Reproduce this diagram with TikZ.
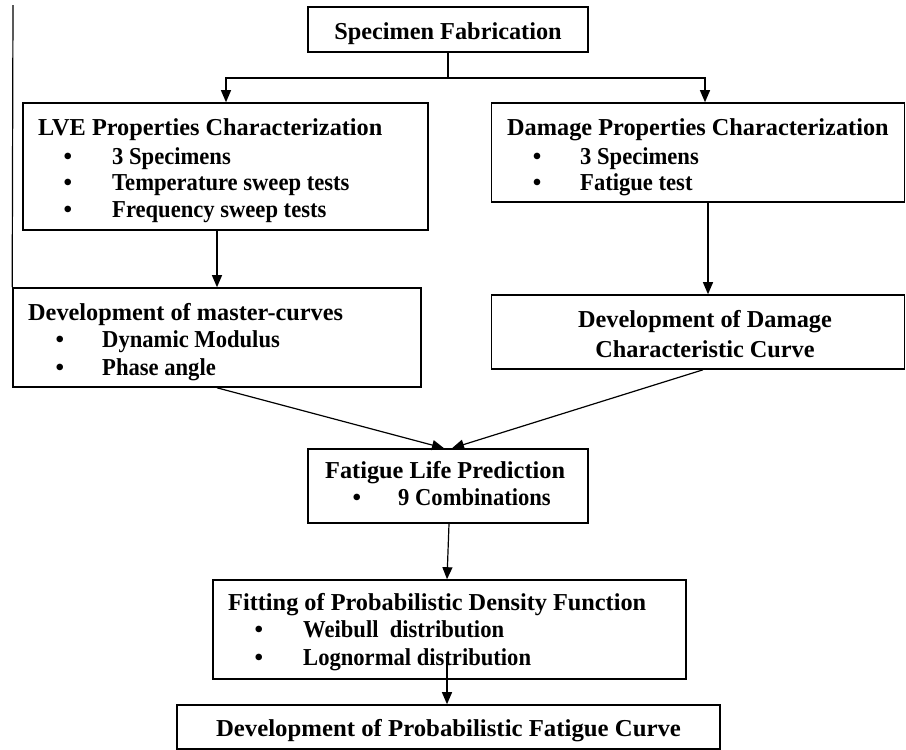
\documentclass[tikz,border=0pt]{standalone}
\usepackage{fontspec}
\usepackage{graphicx}
\setmainfont{Liberation Serif}
\usetikzlibrary{arrows.meta,calc}
\newcommand{\cnd}[1]{\scalebox{0.93}[1]{#1}}
\begin{document}
\begin{tikzpicture}[x=1pt,y=-1pt,
  box/.style={draw,line width=1.6pt,inner sep=0,anchor=center},
  conn/.style={line width=1.2pt},
  arr/.style={line width=1.2pt,-{Triangle[length=12pt,width=10pt]}},
  txt/.style={anchor=base west,inner sep=0,font=\bfseries\fontsize{24.3}{29}\selectfont},
  ctxt/.style={anchor=base,inner sep=0,font=\bfseries\fontsize{24.3}{29}\selectfont},
  bul/.style={anchor=base,inner sep=0,font=\bfseries\fontsize{24.3}{29}\selectfont}]
\useasboundingbox (0,0) rectangle (906,750);
% boxes
\node[box,minimum width=280pt,minimum height=45pt] (spec) at (448,29.5) {};
\node[box,minimum width=405pt,minimum height=127pt] (lve) at (225.5,166.5) {};
\node[box,minimum width=413pt,minimum height=99pt] (dam) at (698,152.5) {};
\node[box,minimum width=408pt,minimum height=99pt] (master) at (217,337.5) {};
\node[box,minimum width=413pt,minimum height=74pt] (dcurve) at (698,332) {};
\node[box,minimum width=280pt,minimum height=74pt] (life) at (448,486) {};
\node[box,minimum width=473pt,minimum height=99pt] (fit) at (449.5,629.5) {};
\node[box,minimum width=543pt,minimum height=44pt] (final) at (448.5,727) {};
% texts
\node[ctxt] (specT) at (448,39) {Specimen Fabrication};
\node[txt] (lveT) at (38,135) {LVE Properties Characterization};
\node[bul] (lveB1) at (68,164) {\textbullet};
\node[txt] (lveL1) at (112,164) {\cnd{3 Specimens}};
\node[bul] (lveB2) at (68,190) {\textbullet};
\node[txt] (lveL2) at (112,190) {\cnd{Temperature sweep tests}};
\node[bul] (lveB3) at (68,217) {\textbullet};
\node[txt] (lveL3) at (112,217) {\cnd{Frequency sweep tests}};
\node[txt] (damT) at (507,135) {Damage Properties Characterization};
\node[bul] (damB1) at (537,164) {\textbullet};
\node[txt] (damL1) at (580,164) {\cnd{3 Specimens}};
\node[bul] (damB2) at (537,190) {\textbullet};
\node[txt] (damL2) at (580,190) {\cnd{Fatigue test}};
\node[txt] (masT) at (28,320) {Development of master-curves};
\node[bul] (masB1) at (60,347) {\textbullet};
\node[txt] (masL1) at (102,347) {\cnd{Dynamic Modulus}};
\node[bul] (masB2) at (60,375) {\textbullet};
\node[txt] (masL2) at (102,375) {\cnd{Phase angle}};
\node[ctxt] (dcT1) at (705,327) {Development of Damage};
\node[ctxt] (dcT2) at (705,357) {Characteristic Curve};
\node[txt] (lifeT) at (325,478) {Fatigue Life Prediction};
\node[bul] (lifeB1) at (357,505) {\textbullet};
\node[txt] (lifeL1) at (398,505) {\cnd{9 Combinations}};
\node[txt] (fitT) at (228,610) {Fitting of Probabilistic Density Function};
\node[bul] (fitB1) at (259,637) {\textbullet};
\node[txt] (fitL1) at (303,637) {\cnd{Weibull\ \ distribution}};
\node[bul] (fitB2) at (259,665) {\textbullet};
\node[txt] (fitL2) at (303,665) {\cnd{Lognormal distribution}};
\node[ctxt] (finT) at (448.5,736) {\scalebox{1.02}[1]{Development of Probabilistic Fatigue Curve}};
% connectors
\coordinate (split) at (448,78);
\coordinate (ltop) at (13,5);
\draw[conn] (ltop) -- (master.north west);
\draw[conn] (spec.south) -- (split);
\draw[arr] (split) -| ($(lve.north)+(0.5,0)$);
\draw[arr] (split) -| ($(dam.north)+(7,0)$);
\draw[arr] (lve.south -| master.north) -- (master.north);
\draw[arr] ($(dam.south)+(10,0)$) -- ($(dcurve.north)+(10,0)$);
\draw[arr] (master.south) -- ($(life.north)+(-4,0)$);
\draw[arr] ($(dcurve.south)+(5,0)$) -- ($(life.north)+(4,0)$);
\draw[arr] ($(life.south)+(1,0)$) -- ($(fit.north)+(-2.5,0)$);
\draw[arr] ($(fit.south)+(-2.5,-24)$) -- ($(final.north)+(-1.5,0)$);
\end{tikzpicture}
\end{document}
